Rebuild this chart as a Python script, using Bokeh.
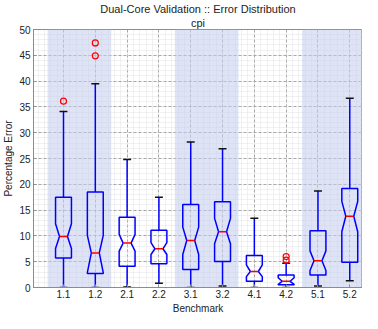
from bokeh.plotting import figure
from bokeh.models import Range1d, FixedTicker, Title
from bokeh.embed import file_html
from bokeh.resources import INLINE

benchmarks = ["1.1", "1.2", "2.1", "2.2", "3.1", "3.2", "4.1", "4.2", "5.1", "5.2"]
q1 = [5.7, 2.7, 4.1, 4.6, 3.5, 5.05, 1.2, 0.55, 2.4, 4.9]
q3 = [17.5, 18.5, 13.6, 11.1, 16.1, 16.6, 6.2, 2.4, 11.0, 19.2]
median = [9.9, 6.7, 8.6, 7.5, 9.1, 10.8, 3.1, 1.2, 5.2, 13.8]
notch_lo = [7.55, 2.9, 7.05, 6.4, 6.4, 8.5, 2.1, 0.6, 3.3, 10.8]
notch_hi = [12.35, 10.1, 10.3, 8.7, 11.7, 13.4, 4.4, 1.9, 7.1, 16.7]
whisker_lo = [0.0, 0.0, 0.1, 0.8, 0.0, 0.3, 0.0, 0.0, 0.3, 1.3]
whisker_hi = [34.1, 39.5, 24.8, 17.5, 28.2, 26.9, 13.4, 4.7, 18.7, 36.7]
outlier_bench = ["1.1", "1.2", "1.2", "4.2", "4.2"]
outlier_val = [36.1, 47.4, 44.9, 6.0, 5.3]
shaded_groups = ["1", "3", "5"]
y_ticks = [0, 5, 10, 15, 20, 25, 30, 35, 40, 45, 50]

FONT = "Liberation Sans"
BLUE = "#0000ff"
pos = {b: i + 1 for i, b in enumerate(benchmarks)}
xs_pos = [pos[b] for b in benchmarks]

p = figure(width=362, height=313, output_backend="svg", toolbar_location=None,
           x_range=Range1d(0.057, 10.40), y_range=Range1d(0, 50), title=None,
           min_border_left=0, min_border_right=0, min_border_top=0, min_border_bottom=0)
p.background_fill_color = "white"
p.border_fill_color = "white"
p.outline_line_color = "#8c8c8c"

p.add_layout(Title(text="cpi", align="center", text_font=FONT, text_font_size="11px",
                   text_font_style="normal", text_color="#222222", standoff=1,
                   text_line_height=1.0), "above")
p.add_layout(Title(text="Dual-Core Validation :: Error Distribution", align="center",
                   text_font=FONT, text_font_size="11px", text_font_style="normal",
                   text_color="#222222", standoff=0, text_line_height=1.0), "above")
p.add_layout(Title(text="Benchmark", align="center", text_font=FONT, text_font_size="10px",
                   text_font_style="normal", text_color="#222222", standoff=0,
                   text_line_height=1.0), "below")

# shaded bands
bl, br = [], []
for g in shaded_groups:
    members = [pos[b] for b in benchmarks if b.split(".")[0] == g]
    bl.append(min(members) - 0.5)
    br.append(max(members) + 0.5)
p.quad(left=bl, right=br, bottom=0, top=50, fill_color="#c2cdee", fill_alpha=0.55,
       line_color=None)

# axes / grid
p.yaxis.ticker = FixedTicker(ticks=y_ticks, minor_ticks=list(range(0, 51)))
p.xaxis.ticker = FixedTicker(ticks=xs_pos, minor_ticks=[i * 0.2 for i in range(0, 56)])
p.xaxis.major_label_overrides = {pos[b]: b for b in benchmarks}
for ax in (p.xaxis, p.yaxis):
    ax.axis_line_color = "#8c8c8c"
    ax.major_tick_line_color = "#8c8c8c"
    ax.minor_tick_line_color = None
    ax.minor_tick_in = 0
    ax.minor_tick_out = 0
    ax.major_tick_in = 3
    ax.major_tick_out = 0
    ax.major_label_text_font = FONT
    ax.major_label_text_font_size = "10px"
    ax.major_label_text_color = "#222222"
    ax.major_label_text_line_height = 1.0
    ax.axis_label_text_font = FONT
    ax.axis_label_text_font_size = "10px"
    ax.axis_label_text_font_style = "normal"
    ax.axis_label_text_color = "#222222"
    ax.axis_label_text_line_height = 1.0
    ax.major_label_standoff = 3
    ax.axis_label_standoff = 2
p.xaxis.major_label_standoff = 2
p.yaxis.axis_label = "Percentage Error"

for gr in (p.xgrid, p.ygrid):
    gr.grid_line_color = "#a8a8a8"
    gr.grid_line_dash = "3 2"
    gr.minor_grid_line_color = "#e2e2e2"
    gr.minor_grid_line_dash = "1 1"

w = 0.25
# whiskers
p.segment(x0=xs_pos, y0=q3, x1=xs_pos, y1=whisker_hi, line_color=BLUE, line_width=1.5)
p.segment(x0=xs_pos, y0=q1, x1=xs_pos, y1=whisker_lo, line_color=BLUE, line_width=1.5)
# caps
cx0 = [x - w / 2 for x in xs_pos]
cx1 = [x + w / 2 for x in xs_pos]
p.segment(x0=cx0, y0=whisker_hi, x1=cx1, y1=whisker_hi, line_color="#111111", line_width=1.5)
p.segment(x0=cx0, y0=whisker_lo, x1=cx1, y1=whisker_lo, line_color="#111111", line_width=1.5)

# notched boxes (unfilled, like the original)
pxs, pys = [], []
for x, a, b, m, nl, nh in zip(xs_pos, q1, q3, median, notch_lo, notch_hi):
    pxs.append([x - w, x + w, x + w, x + w / 2, x + w, x + w, x - w, x - w, x - w / 2, x - w])
    pys.append([a, a, nl, m, nh, b, b, nh, m, nl])
p.patches(pxs, pys, fill_color=None, line_color=BLUE, line_width=1.5)

# medians
p.segment(x0=cx0, y0=median, x1=cx1, y1=median, line_color="#ff0000", line_width=1.5)

# outliers
p.scatter([pos[b] for b in outlier_bench], outlier_val, marker="circle", size=6,
          fill_color=None, line_color="#ff0000", line_width=1.2)

open("out.html", "w").write(file_html(p, INLINE))
